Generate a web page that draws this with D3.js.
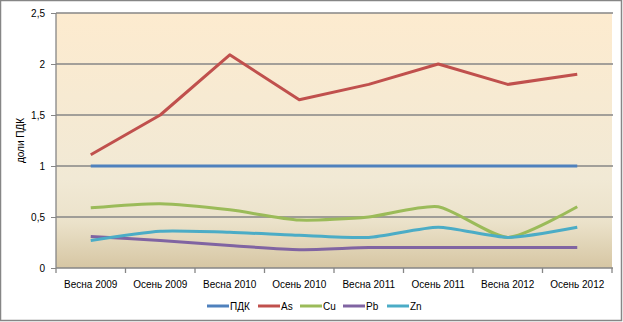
<!DOCTYPE html>
<html><head><meta charset="utf-8">
<script src="https://cdn.jsdelivr.net/npm/d3@7"></script>
<style>body{margin:0;background:#fff}svg{display:block}text{font-family:"Liberation Sans",Arial,sans-serif;fill:#000}</style>
</head><body><svg id="c" width="623" height="322"></svg>
<script>
const categories = ["Весна 2009","Осень 2009","Весна 2010","Осень 2010","Весна 2011","Осень 2011","Весна 2012","Осень 2012"];
const pdk = [1,1,1,1,1,1,1,1];
const as = [1.11,1.5,2.09,1.65,1.8,2.0,1.8,1.9];
const cu = [0.59,0.63,0.57,0.47,0.5,0.6,0.3,0.6];
const pb = [0.31,0.27,0.22,0.18,0.2,0.2,0.2,0.2];
const zn = [0.27,0.36,0.35,0.32,0.3,0.4,0.3,0.4];
const yTicks = [0,0.5,1,1.5,2,2.5];
const seriesNames = ["ПДК","As","Cu","Pb","Zn"];
const colors = ["#4F81BD","#C0504D","#9BBB59","#8064A2","#4BACC6"];
const smooth = [false,false,true,true,true];
const seriesData = [pdk,as,cu,pb,zn];

const svg = d3.select("#c");
const m = {l:56, r:11, t:13, b:54};
const W = 623, H = 322;
const x = d3.scaleBand().domain(categories).range([m.l, W-m.r]);
const y = d3.scaleLinear().domain([0,2.5]).range([H-m.b, m.t]);

svg.append("rect").attr("x",0.5).attr("y",0.5).attr("width",621).attr("height",320)
  .attr("fill","#fff").attr("stroke","#868686").attr("stroke-width",1.5);

const defs = svg.append("defs");
const g = defs.append("linearGradient").attr("id","bg").attr("x1",0).attr("y1",0).attr("x2",0).attr("y2",1);
g.append("stop").attr("offset","0%").attr("stop-color","#fdebcf");
g.append("stop").attr("offset","65%").attr("stop-color","#f1e9d5");
g.append("stop").attr("offset","82%").attr("stop-color","#ebe2ca");
g.append("stop").attr("offset","100%").attr("stop-color","#d6c6a3");
svg.append("rect").attr("x",m.l).attr("y",m.t).attr("width",W-m.r-m.l).attr("height",H-m.b-m.t).attr("fill","url(#bg)");

svg.append("g").selectAll("line").data(yTicks.filter(d=>d>0)).join("line")
  .attr("x1",m.l).attr("x2",W-m.r+1).attr("y1",d=>y(d)).attr("y2",d=>y(d))
  .attr("stroke","#868686").attr("stroke-width",1.3);

const ya = svg.append("g").attr("transform",`translate(${m.l},0)`)
  .call(d3.axisLeft(y).tickValues(yTicks).tickSize(5).tickPadding(6)
    .tickFormat(d=>d3.format("")(d).replace(".",",")));
ya.select(".domain").attr("stroke","#868686").attr("stroke-width",1.3).attr("d",`M0,${m.t}V${H-m.b}`);
ya.selectAll(".tick line").attr("stroke","#868686");
ya.selectAll("text").attr("font-size",10).attr("font-family","Liberation Sans, Arial, sans-serif");

const xa = svg.append("g").attr("transform",`translate(0,${H-m.b})`)
  .call(d3.axisBottom(x).tickSize(0).tickPadding(13));
xa.select(".domain").attr("stroke","#868686").attr("stroke-width",1.3).attr("d",`M${m.l},0H${W-m.r+1}`);
xa.selectAll("text").attr("font-size",10).attr("font-family","Liberation Sans, Arial, sans-serif");
const bounds = categories.map(c=>x(c)).concat([W-m.r]);
svg.append("g").selectAll("line").data(bounds).join("line")
  .attr("x1",d=>d).attr("x2",d=>d).attr("y1",H-m.b).attr("y2",H-m.b+5)
  .attr("stroke","#868686").attr("stroke-width",1.3);

svg.append("text").attr("transform",`translate(24,${(m.t+H-m.b)/2}) rotate(-90)`)
  .attr("text-anchor","middle").attr("font-size",10).text("доли ПДК");

seriesData.forEach((vals,i)=>{
  const line = d3.line().x((d,j)=>x(categories[j])+x.bandwidth()/2).y(d=>y(d))
    .curve(smooth[i]? d3.curveCardinal.tension(0.35) : d3.curveLinear);
  svg.append("path").datum(vals).attr("d",line).attr("fill","none")
    .attr("stroke",colors[i]).attr("stroke-width",3).attr("stroke-linejoin","round");
});

const legX = [207,258,300,343,387];
const lg = svg.append("g");
seriesNames.forEach((n,i)=>{
  lg.append("line").attr("x1",legX[i]).attr("x2",legX[i]+22).attr("y1",306).attr("y2",306)
    .attr("stroke",colors[i]).attr("stroke-width",3);
  lg.append("text").attr("x",legX[i]+23).attr("y",310).attr("font-size",10).text(n);
});
</script></body></html>
